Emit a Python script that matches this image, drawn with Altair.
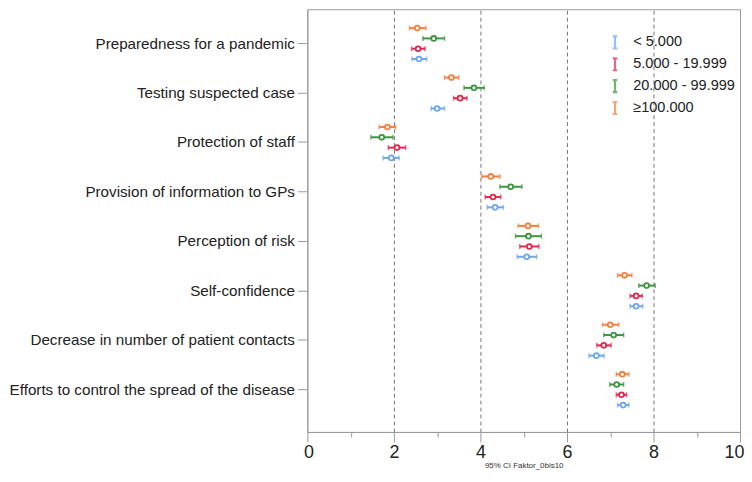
import altair as alt
import pandas as pd

categories = [
    "Preparedness for a pandemic",
    "Testing suspected case",
    "Protection of staff",
    "Provision of information to GPs",
    "Perception of risk",
    "Self-confidence",
    "Decrease in number of patient contacts",
    "Efforts to control the spread of the disease",
]
groups = ["< 5.000", "5.000 - 19.999", "20.000 - 99.999", "≥100.000"]
colors = ["#6ea6ec", "#e3264e", "#3d9440", "#f47f3e"]

blue_mean = [2.58, 3.00, 1.94, 4.34, 5.07, 7.60, 6.68, 7.30]
blue_lo = [2.42, 2.86, 1.75, 4.16, 4.85, 7.46, 6.51, 7.17]
blue_hi = [2.76, 3.17, 2.12, 4.53, 5.30, 7.75, 6.86, 7.43]
red_mean = [2.56, 3.53, 2.07, 4.29, 5.13, 7.60, 6.85, 7.26]
red_lo = [2.41, 3.38, 1.87, 4.11, 4.91, 7.46, 6.69, 7.14]
red_hi = [2.72, 3.69, 2.27, 4.47, 5.35, 7.74, 7.02, 7.38]
green_mean = [2.92, 3.85, 1.72, 4.70, 5.11, 7.84, 7.08, 7.15]
green_lo = [2.67, 3.62, 1.47, 4.45, 4.81, 7.66, 6.85, 6.99]
green_hi = [3.17, 4.09, 1.98, 4.96, 5.41, 8.04, 7.31, 7.31]
orange_mean = [2.54, 3.33, 1.85, 4.24, 5.10, 7.33, 7.00, 7.28]
orange_lo = [2.36, 3.17, 1.66, 4.03, 4.87, 7.17, 6.82, 7.14]
orange_hi = [2.74, 3.50, 2.04, 4.45, 5.34, 7.50, 7.20, 7.43]

x_ticks = [0, 1, 2, 3, 4, 5, 6, 7, 8, 9, 10]

series = [
    (groups[0], blue_mean, blue_lo, blue_hi),
    (groups[1], red_mean, red_lo, red_hi),
    (groups[2], green_mean, green_lo, green_hi),
    (groups[3], orange_mean, orange_lo, orange_hi),
]
rows = []
for g, m, lo, hi in series:
    for c, mv, lv, hv in zip(categories, m, lo, hi):
        rows.append({"cat": c, "group": g, "mean": mv, "lo": lv, "hi": hv})
df = pd.DataFrame(rows)

FONT = "Liberation Sans"

y_enc = alt.Y(
    "cat:N",
    sort=categories,
    scale=alt.Scale(paddingInner=0, paddingOuter=0.275, align=0.353),
    axis=alt.Axis(
        title=None,
        labelFontSize=15.3,
        labelFont=FONT,
        labelColor="#222222",
        labelPadding=3,
        labelLimit=400,
        tickSize=10,
        tickColor="#999999",
        domainColor="#999999",
        domain=True,
    ),
)
yoff_enc = alt.YOffset(
    "group:N",
    sort=list(reversed(groups)),
    scale=alt.Scale(paddingInner=0, paddingOuter=0.4, align=0.5),
)
color_scale = alt.Scale(domain=groups, range=colors)

legend = alt.Legend(
    title=None,
    orient="none",
    legendX=302,
    legendY=26,
    padding=0,
    symbolType="M-0.45,-1.2H0.45M0,-1.2V1.2M-0.45,1.2H0.45",
    symbolSize=100,
    symbolStrokeWidth=2.2,
    symbolFillColor="transparent",
    labelFontSize=14.6,
    labelFont=FONT,
    labelColor="#222222",
    labelOffset=11,
    rowPadding=0,
)
color_enc = alt.Color("group:N", scale=color_scale, sort=groups, legend=legend)

x_axis = alt.Axis(
    values=x_ticks,
    labelExpr="datum.value % 2 === 0 ? datum.label : ''",
    labelFontSize=18,
    labelFont=FONT,
    labelColor="#222222",
    labelPadding=2,
    labelFlush=True,
    labelFlushOffset=4,
    tickSize=alt.ExprRef(expr="datum.value % 2 === 0 ? 10 : 5"),
    tickColor="#999999",
    domainColor="#999999",
    grid=True,
    gridColor="#777777",
    gridDash=[4, 3],
    gridOpacity=alt.ExprRef(expr="(datum.value % 2 === 0 && datum.value > 0 && datum.value < 10) ? 1 : 0"),
    title="95% CI Faktor_0bis10",
    titleFontSize=8,
    titleFont=FONT,
    titleFontWeight="normal",
    titleColor="#333333",
    titlePadding=0,
)
x_scale = alt.Scale(domain=[0, 10], nice=False, zero=False)

base = alt.Chart(df)

bars = base.mark_rule(strokeWidth=2).encode(
    x=alt.X("lo:Q", scale=x_scale, axis=x_axis),
    x2="hi:Q",
    y=y_enc,
    yOffset=yoff_enc,
    color=color_enc,
)
cap_lo = base.mark_tick(thickness=1.5, size=5).encode(
    x=alt.X("lo:Q", scale=x_scale),
    y=y_enc,
    yOffset=yoff_enc,
    color=color_enc,
)
cap_hi = base.mark_tick(thickness=1.5, size=5).encode(
    x=alt.X("hi:Q", scale=x_scale),
    y=y_enc,
    yOffset=yoff_enc,
    color=color_enc,
)
points = base.mark_point(filled=False, fill="white", fillOpacity=1, size=24, strokeWidth=1.8, opacity=1).encode(
    x=alt.X("mean:Q", scale=x_scale),
    y=y_enc,
    yOffset=yoff_enc,
    color=color_enc,
)

chart = (
    alt.layer(bars, cap_lo, cap_hi, points)
    .properties(width=435, height=425, background="white", padding=0)
    .configure_view(stroke="#999999", strokeWidth=1)
)

chart.save("out.html", embed_options={"renderer": "svg", "actions": False})
